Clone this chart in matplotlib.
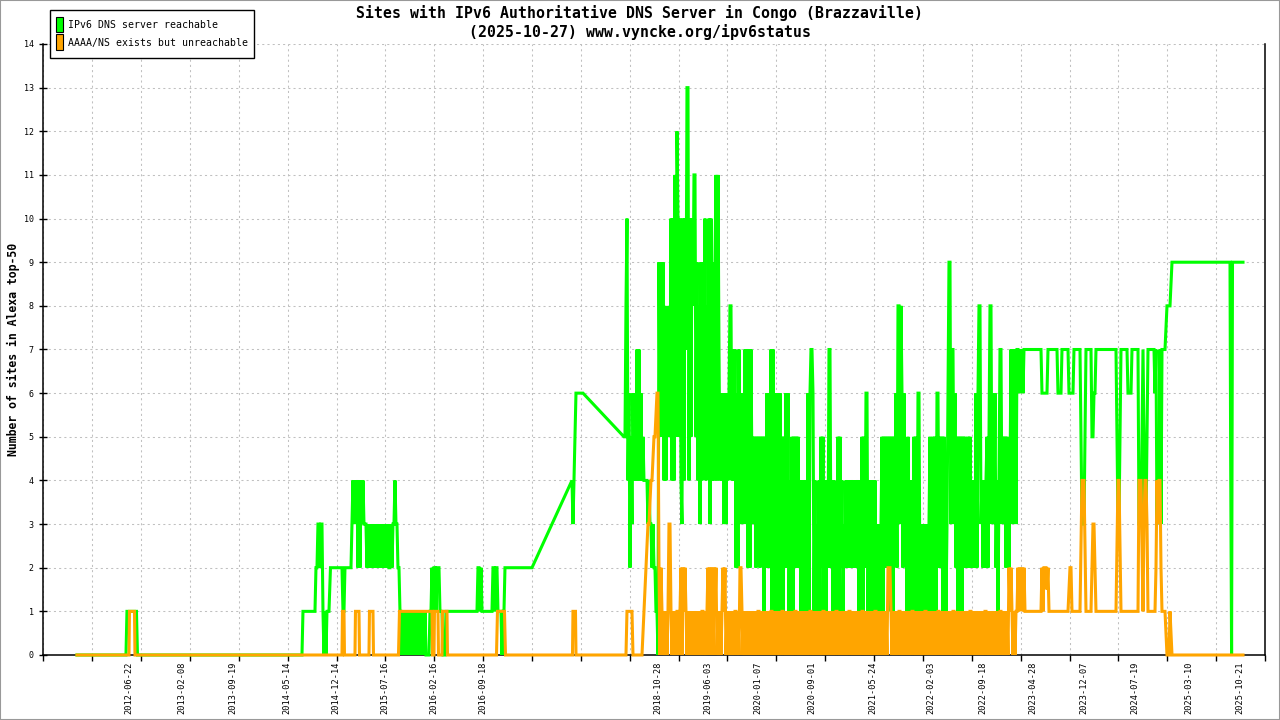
import numpy as np
import matplotlib
matplotlib.use("Agg")
import matplotlib.pyplot as plt
from matplotlib.patches import Rectangle
from datetime import date

# ---------------- texts ----------------
TITLE = "Sites with IPv6 Authoritative DNS Server in Congo (Brazzaville)"
SUBTITLE = "(2025-10-27) www.vyncke.org/ipv6status"
YLABEL = "Number of sites in Alexa top-50"
SERIES_NAMES = ["IPv6 DNS server reachable", "AAAA/NS exists but unreachable"]
SERIES_COLORS = ["#00ff00", "#ffa500"]

TICK_DATES = ["2012-06-22", "2013-02-08", "2013-09-19", "2014-05-14", "2014-12-14",
              "2015-07-16", "2016-02-16", "2016-09-18", "2018-10-28", "2019-06-03",
              "2020-01-07", "2020-09-01", "2021-05-24", "2022-02-03", "2022-09-18",
              "2023-04-28", "2023-12-07", "2024-07-19", "2025-03-10", "2025-10-21"]
Y_TICKS = list(range(0, 15))

# ---------------- data (time in decimal years) ----------------
green_2014 = [2, 2, 3, 3, 2, 3, 3, 1, 0, 1, 0, 1, 1, 1]
green_2015a = [3, 4, 3, 4, 3, 4, 2, 4, 2, 4, 3, 4]
green_2015b = [3, 3, 3, 2, 3, 2, 3, 2, 3, 2, 3, 2, 3, 2, 3, 2, 3, 2, 3, 2,
               3, 2, 3, 2, 3, 2, 2, 3, 2, 3, 3, 4, 3, 3, 2, 2, 1]
green_2015c = [1, 0, 1, 0, 1, 0, 1, 0, 1, 0, 1, 0, 1, 0, 1, 0, 1, 0, 1, 0,
               1, 0, 1, 0, 1, 0]
green_2016 = [0, 0, 0, 1, 1, 2, 1, 2, 2, 1, 2, 2, 2, 1, 1, 1, 0, 0, 0, 1, 1]

green_dense = [
    5, 8, 10, 4, 6, 2, 5, 3, 6, 4,
    6, 4, 7, 4, 7, 4, 6, 4, 5, 4,
    4, 4, 4, 3, 4, 3, 3, 2, 3, 2,
    2, 1, 1, 0, 9, 5, 9, 5, 9, 4,
    8, 4, 7, 5, 8, 5, 10, 4, 10, 4,
    11, 5, 12, 10, 5, 10, 4, 3, 10, 4,
    10, 7, 13, 13, 4, 10, 5, 10, 8, 11,
    11, 5, 9, 4, 8, 3, 9, 4, 9, 5,
    10, 4, 8, 5, 10, 3, 10, 4, 9, 4,
    9, 11, 4, 11, 7, 4, 6, 4, 6, 3,
    6, 3, 6, 4, 6, 8, 8, 4, 7, 4,
    7, 2, 6, 2, 7, 3, 6, 3, 6, 4,
    7, 3, 7, 2, 7, 2, 7, 4, 5, 3,
    5, 2, 5, 3, 5, 2, 5, 3, 5, 1,
    5, 2, 6, 2, 6, 2, 7, 1, 7, 1,
    5, 6, 1, 6, 1, 6, 2, 5, 1, 5,
    2, 6, 2, 6, 1, 4, 1, 5, 1, 5,
    2, 5, 2, 5, 2, 4, 1, 4, 1, 4,
    1, 4, 1, 6, 1, 6, 7, 7, 6, 1,
    4, 0, 3, 1, 4, 1, 5, 2, 5, 1,
    4, 1, 4, 2, 7, 7, 2, 4, 1, 4,
    2, 3, 1, 5, 0, 5, 2, 4, 1, 3,
    2, 4, 2, 4, 2, 4, 2, 4, 2, 4,
    2, 4, 2, 4, 1, 4, 2, 5, 1, 5,
    2, 6, 6, 1, 4, 2, 4, 1, 4, 1,
    4, 2, 3, 1, 3, 1, 3, 5, 1, 5,
    2, 5, 2, 5, 2, 5, 1, 5, 1, 5,
    3, 6, 2, 8, 8, 3, 8, 6, 2, 6,
    3, 4, 1, 5, 1, 4, 2, 4, 1, 5,
    1, 5, 1, 6, 6, 1, 3, 1, 3, 1,
    3, 1, 3, 1, 3, 5, 1, 4, 5, 1,
    5, 1, 6, 6, 2, 5, 2, 5, 1, 5,
    3, 1, 3, 6, 9, 9, 3, 7, 7, 3,
    6, 2, 5, 1, 5, 2, 5, 1, 5, 2,
    5, 2, 3, 5, 2, 5, 2, 4, 2, 4,
    2, 6, 2, 6, 8, 8, 3, 4, 2, 4,
    2, 4, 5, 2, 5, 8, 8, 3, 6, 3,
    6, 2, 4, 1, 4, 7, 7, 3, 5, 3,
    5, 2, 5, 4, 2, 4, 7, 3, 7, 4,
    7, 3, 7]

orange_dense = [
    0, 1, 1, 1, 1, 1, 1, 0, 0, 0,
    0, 0, 0, 0, 0, 0, 0, 0.5, 1, 1.5,
    2, 2.5, 3, 3, 3.5, 4, 4, 4.5, 5, 5,
    5.5, 6, 6, 2, 0, 2, 1, 0, 1, 0,
    1, 0, 1, 3, 3, 1, 0, 1, 0, 1,
    0, 1, 1, 0, 1, 2, 0, 2, 1, 2,
    1, 0, 1, 0, 1, 0, 1, 0, 1, 0,
    1, 0, 1, 0, 1, 0, 1, 1, 0, 1,
    0, 1, 2, 0, 2, 1, 2, 0, 2, 1,
    2, 0, 1, 0, 1, 0, 1, 2, 1, 2,
    0, 1, 0, 1, 0, 1, 0, 1, 0, 1,
    1, 0, 1, 0, 2, 2, 1, 0, 1, 0,
    1, 0, 1, 0, 1, 0, 1, 0, 1, 0,
    1, 0, 1, 1, 0, 1, 0, 1, 0, 1,
    0, 1, 0, 1, 0, 1, 1, 0, 1, 0,
    1, 0, 1, 0, 1, 0, 1, 1, 0, 1,
    0, 1, 0, 1, 0, 1, 0, 1, 0, 1,
    1, 0, 1, 0, 1, 0, 1, 0, 1, 0,
    1, 0, 1, 0, 1, 1, 0, 1, 0, 1,
    0, 1, 0, 1, 0, 1, 0, 1, 1, 0,
    1, 0, 1, 0, 1, 0, 1, 0, 1, 0,
    1, 1, 0, 1, 0, 1, 0, 1, 0, 1,
    0, 1, 0, 1, 1, 0, 1, 0, 1, 0,
    1, 0, 1, 0, 1, 0, 1, 1, 0, 1,
    0, 1, 0, 1, 0, 1, 0, 1, 0, 1,
    1, 0, 1, 0, 1, 0, 1, 0, 1, 0,
    1, 0, 2, 2, 2, 1, 0, 1, 0, 1,
    0, 1, 0, 1, 1, 0, 1, 0, 1, 0,
    1, 0, 1, 0, 1, 0, 1, 1, 0, 1,
    0, 1, 0, 1, 0, 1, 0, 1, 0, 1,
    1, 0, 1, 0, 1, 0, 1, 0, 1, 0,
    1, 0, 1, 1, 0, 1, 0, 1, 0, 1,
    0, 1, 0, 1, 0, 1, 0, 1, 1, 0,
    1, 0, 1, 0, 1, 0, 1, 0, 1, 0,
    1, 0, 1, 0, 1, 1, 0, 1, 0, 1,
    0, 1, 0, 1, 0, 1, 0, 1, 0, 1,
    1, 0, 1, 0, 1, 0, 1, 0, 1, 0,
    1, 0, 1, 0, 1, 1, 0, 1, 0, 1,
    0, 1, 0, 2, 1, 2, 1, 0, 1, 0,
    1, 1]

# runs: (start time, end time, values spread evenly between them)
green_runs = [
    (2011.846, 2012.434, [0, 0]),
    (2012.446, 2012.560, [1, 1]),
    (2012.572, 2014.546, [0, 0]),
    (2014.558, 2014.702, [1, 1]),
    (2014.714, 2014.870, green_2014),
    (2014.888, 2015.026, [2, 2]),
    (2015.038, 2015.050, [1, 1]),
    (2015.062, 2015.134, [2, 2]),
    (2015.146, 2015.278, green_2015a),
    (2015.290, 2015.722, green_2015b),
    (2015.734, 2016.034, green_2015c),
    (2016.046, 2016.286, green_2016),
    (2016.298, 2016.646, [1, 1]),
    (2016.658, 2016.706, [2, 2, 1, 2, 1]),
    (2016.718, 2016.826, [1, 1]),
    (2016.838, 2016.898, [2, 2, 1, 2, 2, 1]),
    (2016.910, 2016.982, [1, 1, 1, 0, 1, 1, 2]),
    (2016.994, 2017.306, [2, 2]),
    (2017.786, 2017.834, [4, 3, 4, 5, 6]),
    (2017.918, 2018.410, [6, 5]),
    (2018.422, 2023.126, green_dense),
    (2023.138, 2023.138, [7]),
    (2023.150, 2023.198, [6, 7, 6, 7, 6]),
    (2023.210, 2023.414, [7, 7]),
    (2023.426, 2023.498, [6, 6, 6, 6, 6, 6, 7]),
    (2023.510, 2023.606, [7, 7]),
    (2023.618, 2023.654, [6, 6, 6, 6]),
    (2023.666, 2023.738, [7, 7]),
    (2023.750, 2023.798, [6, 6, 6, 6, 6]),
    (2023.810, 2023.882, [7, 7]),
    (2023.894, 2023.942, [5, 3, 3, 3, 5]),
    (2023.954, 2024.014, [7, 7]),
    (2024.026, 2024.062, [5, 5, 6, 6]),
    (2024.074, 2024.314, [7, 7]),
    (2024.326, 2024.362, [5, 3, 3, 5]),
    (2024.374, 2024.446, [7, 7]),
    (2024.458, 2024.494, [6, 6, 6, 6]),
    (2024.506, 2024.578, [7, 7]),
    (2024.590, 2024.614, [3, 3, 3]),
    (2024.638, 2024.638, [7]),
    (2024.650, 2024.686, [5, 3, 3, 5]),
    (2024.698, 2024.770, [7, 7]),
    (2024.782, 2024.866, [6, 7, 3, 5, 3, 7, 3, 7]),
    (2024.878, 2024.902, [7, 7]),
    (2024.914, 2024.926, [7.5, 8]),
    (2024.962, 2024.974, [8, 8.5]),
    (2024.986, 2025.682, [9, 9]),
    (2025.690, 2025.712, [4.5, 0, 9]),
    (2025.838, 2025.838, [9]),
]

orange_runs = [
    (2011.846, 2012.470, [0, 0]),
    (2012.476, 2012.536, [1, 1]),
    (2012.542, 2015.026, [0, 0]),
    (2015.032, 2015.050, [1, 1]),
    (2015.056, 2015.182, [0, 0]),
    (2015.188, 2015.230, [1, 1]),
    (2015.236, 2015.350, [0, 0]),
    (2015.356, 2015.398, [1, 1]),
    (2015.404, 2015.704, [0, 0]),
    (2015.716, 2016.106, [1, 1]),
    (2016.112, 2016.130, [0, 0]),
    (2016.136, 2016.178, [1, 1]),
    (2016.184, 2016.226, [0, 0]),
    (2016.232, 2016.286, [1, 1]),
    (2016.292, 2016.880, [0, 0]),
    (2016.892, 2016.976, [1, 1]),
    (2016.988, 2017.792, [0, 0]),
    (2017.798, 2017.828, [1, 1]),
    (2017.834, 2018.428, [0, 0]),
    (2018.434, 2023.126, orange_dense),
    (2023.138, 2023.222, [2, 1, 2, 1.5, 2, 1, 2, 1]),
    (2023.234, 2023.414, [1, 1]),
    (2023.426, 2023.498, [2, 1, 2, 2, 2, 1.5, 2]),
    (2023.510, 2023.738, [1, 1]),
    (2023.750, 2023.798, [1.5, 2, 2, 1, 1]),
    (2023.810, 2023.882, [1, 1]),
    (2023.894, 2023.942, [2.5, 4, 4, 4, 2.5]),
    (2023.954, 2024.014, [1, 1]),
    (2024.026, 2024.062, [2, 3, 3, 2]),
    (2024.074, 2024.314, [1, 1]),
    (2024.326, 2024.362, [2.5, 4, 4, 2.5]),
    (2024.374, 2024.578, [1, 1]),
    (2024.590, 2024.614, [4, 4, 4]),
    (2024.638, 2024.638, [1]),
    (2024.650, 2024.686, [3, 4, 4, 3]),
    (2024.698, 2024.770, [1, 1]),
    (2024.782, 2024.866, [1, 2, 4, 3, 4, 4, 2, 1]),
    (2024.878, 2024.902, [1, 1]),
    (2024.914, 2024.950, [0.5, 0, 0, 0]),
    (2024.962, 2024.986, [1, 0.5, 0]),
    (2025.838, 2025.838, [0]),
]

X_RANGE = (2011.442, 2026.102)


def expand(runs):
    t, v = [], []
    for t0, t1, vals in runs:
        n = len(vals)
        ts = np.linspace(t0, t1, n) if n > 1 else [t0]
        t.extend(ts)
        v.extend(vals)
    return np.array(t, float), np.array(v, float)


def decimal_year(s):
    d = date.fromisoformat(s)
    start = date(d.year, 1, 1)
    n = (date(d.year + 1, 1, 1) - start).days
    return d.year + (d - start).days / n


MONO = "DejaVu Sans Mono"

fig = plt.figure(figsize=(12.8, 7.2), dpi=100)
fig.patch.set_facecolor("white")
ax = fig.add_axes([0.03383, 0.09028, 0.95445, 0.84861])

gt, gv = expand(green_runs)
ot, ov = expand(orange_runs)
ax.plot(gt, gv, color=SERIES_COLORS[0], lw=2.2, zorder=3, clip_on=False,
        solid_joinstyle="miter")
ax.plot(ot, ov, color=SERIES_COLORS[1], lw=2.2, zorder=4, clip_on=False,
        solid_joinstyle="miter")

ax.set_xlim(*X_RANGE)
ax.set_ylim(0, 14)

# major ticks: equal divisions with grid; minor ticks carry the date labels
ax.set_xticks(np.linspace(X_RANGE[0], X_RANGE[1], 26))
ax.set_xticklabels([])
ax.set_xticks([decimal_year(s) for s in TICK_DATES], minor=True)
ax.set_xticklabels(TICK_DATES, minor=True, rotation=90, fontsize=6.2,
                   family=MONO)
ax.tick_params(axis="x", which="major", direction="out", length=4.5,
               width=1, color="black")
ax.tick_params(axis="x", which="minor", length=0, pad=5)

ax.set_yticks(Y_TICKS)
ax.set_yticklabels([str(v) for v in Y_TICKS], fontsize=6, family=MONO)
ax.tick_params(axis="y", direction="inout", length=6, width=1, pad=4)

ax.grid(True, which="major", color="#c0c0c0", lw=0.75,
        linestyle=(0, (2, 3)), zorder=0)
ax.set_axisbelow(True)

for side in ("left", "bottom", "right"):
    ax.spines[side].set_linewidth(1.1)
    ax.spines[side].set_color("black")
ax.spines["top"].set_visible(False)

# titles and axis label
fig.text(0.4996, 1 - 13 / 720, TITLE, ha="center", va="center",
         fontsize=10.7, family=MONO, weight="bold")
fig.text(0.5, 1 - 32 / 720, SUBTITLE, ha="center", va="center",
         fontsize=10.7, family=MONO, weight="bold")
fig.text(13 / 1280, 1 - 349 / 720, YLABEL, rotation=90, ha="center",
         va="center", fontsize=8.3, family=MONO, weight="bold")

# legend box
fig.add_artist(Rectangle((50 / 1280, 1 - 58 / 720), 204 / 1280, 48 / 720,
                         transform=fig.transFigure, facecolor="white",
                         edgecolor="black", lw=1.0, zorder=10))
for i, (name, col) in enumerate(zip(SERIES_NAMES, SERIES_COLORS)):
    top = 17 + i * 17.5
    fig.add_artist(Rectangle((56 / 1280, 1 - (top + 15) / 720), 7 / 1280,
                             15 / 720, transform=fig.transFigure,
                             facecolor=col, edgecolor="black", lw=0.8,
                             zorder=11))
    fig.text(68 / 1280, 1 - (top + 8.5) / 720, name, ha="left", va="center",
             fontsize=7.1, family=MONO, zorder=12)

# outer frame of the image
fig.add_artist(Rectangle((0, 0), 1, 1, transform=fig.transFigure, fill=False,
                         edgecolor="#999999", lw=1.5, zorder=20))

fig.savefig("out.png", dpi=100, facecolor="white")
